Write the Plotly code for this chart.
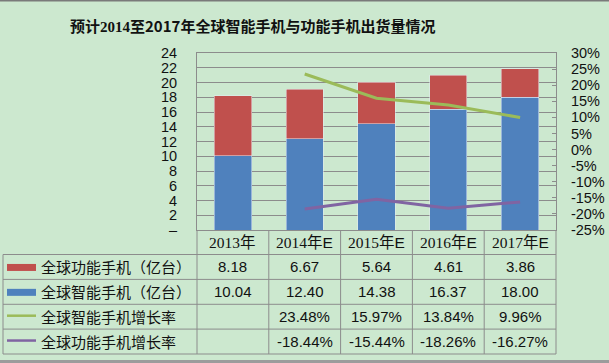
import plotly.graph_objects as go

# ---------------- data ----------------
categories = ["2013年", "2014年E", "2015年E", "2016年E", "2017年E"]
feature_units = [8.18, 6.67, 5.64, 4.61, 3.86]        # 全球功能手机（亿台）
smart_units = [10.04, 12.40, 14.38, 16.37, 18.00]     # 全球智能手机（亿台）
smart_growth = [None, 23.48, 15.97, 13.84, 9.96]      # 全球智能手机增长率 (%)
feature_growth = [None, -18.44, -15.44, -18.26, -16.27]  # 全球功能手机增长率 (%)
series_names = ["全球功能手机（亿台）", "全球智能手机（亿台）", "全球智能手机增长率", "全球功能手机增长率"]
left_tick_values = list(range(0, 25, 2))
right_tick_values = list(range(-25, 31, 5))
title_text = "预计2014至2017年全球智能手机与功能手机出货量情况"

# ---------------- style ----------------
BG = "#CCE8CF"
GRID = "#8c8c8c"
RED = "#C0504D"
BLUE = "#4F81BD"
GREEN = "#9BBB59"
PURPLE = "#8064A2"
SANS = "Liberation Sans, Arial, Noto Sans CJK SC"
CJK = "Noto Sans CJK SC"
SERIF = "Liberation Serif, Noto Sans CJK SC"

W, H = 609, 363
L, R, T, B = 197, 53, 53, 133
PW, PH = W - L - R, H - T - B


def fx(px):
    return (px - L) / PW


def fy(py):
    return (H - B - py) / PH


fig = go.Figure()
fig.add_trace(go.Bar(x=categories, y=smart_units, name=series_names[1], marker_color=BLUE,
                     width=0.52, hoverinfo="skip"))
fig.add_trace(go.Bar(x=categories, y=feature_units, name=series_names[0], marker_color=RED,
                     width=0.52, hoverinfo="skip"))
fig.add_trace(go.Scatter(x=categories, y=smart_growth, name=series_names[2], yaxis="y2",
                         mode="lines", line=dict(color=GREEN, width=3), hoverinfo="skip"))
fig.add_trace(go.Scatter(x=categories, y=feature_growth, name=series_names[3], yaxis="y2",
                         mode="lines", line=dict(color=PURPLE, width=3), hoverinfo="skip"))

shapes = []
annotations = []

# table geometry (pixel rows)
label_top = H - B
row_edges = [254.5, 279.4, 304.3, 329.1, 354.0]
table_left = 3

# vertical lines below the plot
for xp in [0, 1]:
    shapes.append(dict(type="line", xref="paper", yref="paper", x0=xp, x1=xp,
                       y0=fy(label_top), y1=fy(row_edges[-1]), line=dict(color=GRID, width=1)))
for i in range(len(categories) - 1):
    shapes.append(dict(type="line", xref="x", yref="paper", x0=i + 0.5, x1=i + 0.5,
                       y0=fy(label_top), y1=fy(row_edges[-1]), line=dict(color=GRID, width=1)))
shapes.append(dict(type="line", xref="paper", yref="paper", x0=fx(table_left), x1=fx(table_left),
                   y0=fy(row_edges[0]), y1=fy(row_edges[-1]), line=dict(color=GRID, width=1)))
for ye in row_edges:
    shapes.append(dict(type="line", xref="paper", yref="paper", x0=fx(table_left), x1=1,
                       y0=fy(ye), y1=fy(ye), line=dict(color=GRID, width=1)))

# category labels
for c in categories:
    label = c.replace("E", "<span style='font-family:Liberation Sans'>E</span>")
    annotations.append(dict(x=c, xref="x", y=fy(242.5), yref="paper", text=label, showarrow=False,
                            font=dict(family=SERIF, size=15.5, color="#111"),
                            xanchor="center", yanchor="middle"))

rows = [
    (series_names[0], feature_units, "{:.2f}", "rect", RED),
    (series_names[1], smart_units, "{:.2f}", "rect", BLUE),
    (series_names[2], smart_growth, "{:.2f}%", "line", GREEN),
    (series_names[3], feature_growth, "{:.2f}%", "line", PURPLE),
]
for k, (name, vals, fmt, kind, col) in enumerate(rows):
    yc = (row_edges[k] + row_edges[k + 1]) / 2
    if kind == "rect":
        shapes.append(dict(type="rect", xref="paper", yref="paper", x0=fx(7), x1=fx(36),
                           y0=fy(yc - 3), y1=fy(yc + 4), fillcolor=col, line=dict(width=0)))
    else:
        shapes.append(dict(type="line", xref="paper", yref="paper", x0=fx(7), x1=fx(36),
                           y0=fy(yc - 1), y1=fy(yc - 1), line=dict(color=col, width=2.5)))
    annotations.append(dict(x=fx(39), xref="paper", y=fy(yc), yref="paper", text=name,
                            showarrow=False, xanchor="left", yanchor="middle",
                            font=dict(family=CJK, size=15, color="#111")))
    for c, v in zip(categories, vals):
        if v is None:
            continue
        annotations.append(dict(x=c, xref="x", y=fy(yc), yref="paper", text=fmt.format(v),
                                showarrow=False, xanchor="center", yanchor="middle",
                                font=dict(family=SANS, size=15, color="#111")))

# title (2014 in serif, rest bold as in reference)
title_html = "<b>" + title_text.replace("2014", "<span style='font-family:Liberation Serif'>2014</span>") + "</b>"
annotations.append(dict(x=fx(252), xref="paper", y=fy(26), yref="paper", text=title_html,
                        showarrow=False, xanchor="center", yanchor="middle",
                        font=dict(family=CJK, size=15, color="#111")))

# frame bands
shapes.append(dict(type="rect", xref="paper", yref="paper", x0=fx(0), x1=fx(W), y0=fy(0), y1=fy(1.5),
                   fillcolor="#7a7a7a", line=dict(width=0)))
shapes.append(dict(type="rect", xref="paper", yref="paper", x0=fx(0), x1=fx(W), y0=fy(360), y1=fy(H),
                   fillcolor="#9c9c9c", line=dict(width=0)))

fig.update_layout(
    width=W, height=H,
    margin=dict(l=L, r=R, t=T, b=B, pad=0),
    paper_bgcolor=BG, plot_bgcolor=BG,
    barmode="stack", showlegend=False,
    xaxis=dict(type="category", range=[-0.5, len(categories) - 0.5], showticklabels=False,
               showgrid=False, showline=True, mirror=True, linecolor=GRID, linewidth=1,
               ticks="", fixedrange=True, automargin=False),
    yaxis=dict(range=[0, 24], tickvals=left_tick_values,
               ticktext=["–" if v == 0 else str(v) for v in left_tick_values],
               showgrid=True, gridcolor=GRID, gridwidth=1, zeroline=False,
               showline=True, linecolor=GRID, linewidth=1, ticks="", automargin=False,
               ticklabelstandoff=16, tickfont=dict(family=SANS, size=14.5, color="#111")),
    yaxis2=dict(range=[-25, 30], tickvals=right_tick_values,
                ticktext=[f"{v}%" for v in right_tick_values], overlaying="y", side="right",
                showgrid=False, zeroline=False, showline=True, linecolor=GRID, linewidth=1,
                ticks="inside", ticklen=4, tickcolor=GRID, automargin=False,
                ticklabelstandoff=11, tickfont=dict(family=SANS, size=14.5, color="#111")),
    shapes=shapes, annotations=annotations,
)

fig.write_html("out.html", config={"displayModeBar": False, "staticPlot": True},
               post_script="document.body.style.margin='0';document.body.style.overflow='hidden';")
